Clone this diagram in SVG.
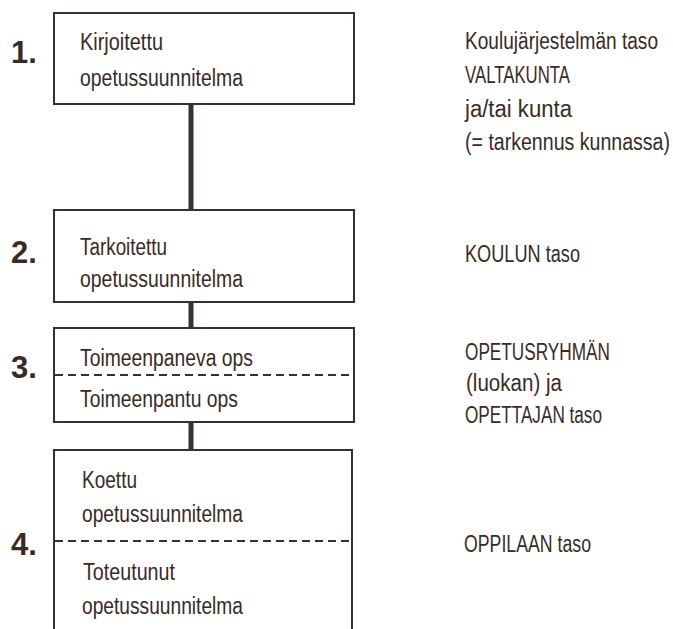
<svg xmlns="http://www.w3.org/2000/svg" width="673" height="629" viewBox="0 0 673 629">
<style>
.box{fill:#fff;stroke:#3a302c;stroke-width:2}
.dash{stroke:#3a302c;stroke-width:2;stroke-dasharray:8,5;fill:none}
.conn{stroke:#3a302c;stroke-width:5}
.t{font-family:"Liberation Sans","DejaVu Sans",sans-serif;font-size:23px;fill:#3a2a25}
.n{font-family:"Liberation Sans","DejaVu Sans",sans-serif;font-weight:bold;font-size:31px;fill:#3a2a25}
</style>
<rect width="673" height="629" fill="#fff"/>
<g id="connectors">
<line class="conn" x1="191" y1="104" x2="191" y2="211"/>
<line class="conn" x1="191" y1="302" x2="191" y2="329"/>
<line class="conn" x1="191" y1="422" x2="191" y2="451"/>
</g>
<g id="node1">
<rect class="box" x="54" y="13" width="300" height="91"/>
<text class="t" x="80" y="50" textLength="83" lengthAdjust="spacingAndGlyphs">Kirjoitettu</text>
<text class="t" x="80" y="86" textLength="163" lengthAdjust="spacingAndGlyphs">opetussuunnitelma</text>
<text class="n" x="11" y="63">1.</text>
</g>
<g id="node2">
<rect class="box" x="54" y="210" width="300" height="92"/>
<text class="t" x="80" y="255" textLength="87" lengthAdjust="spacingAndGlyphs">Tarkoitettu</text>
<text class="t" x="80" y="287" textLength="163" lengthAdjust="spacingAndGlyphs">opetussuunnitelma</text>
<text class="n" x="11" y="263">2.</text>
</g>
<g id="node3">
<rect class="box" x="54" y="328" width="300" height="94"/>
<line class="dash" x1="55" y1="375" x2="353" y2="375"/>
<text class="t" x="80" y="366" textLength="173" lengthAdjust="spacingAndGlyphs">Toimeenpaneva ops</text>
<text class="t" x="80" y="407" textLength="158" lengthAdjust="spacingAndGlyphs">Toimeenpantu ops</text>
<text class="n" x="11" y="378">3.</text>
</g>
<g id="node4">
<rect class="box" x="54" y="450" width="298" height="200"/>
<line class="dash" x1="55" y1="541" x2="351" y2="541"/>
<text class="t" x="82" y="488" textLength="55" lengthAdjust="spacingAndGlyphs">Koettu</text>
<text class="t" x="82" y="522" textLength="161" lengthAdjust="spacingAndGlyphs">opetussuunnitelma</text>
<text class="t" x="83" y="580" textLength="92" lengthAdjust="spacingAndGlyphs">Toteutunut</text>
<text class="t" x="82" y="614" textLength="161" lengthAdjust="spacingAndGlyphs">opetussuunnitelma</text>
<text class="n" x="11" y="555">4.</text>
</g>
<g id="levels">
<text class="t" x="465" y="49" textLength="193" lengthAdjust="spacingAndGlyphs">Koulujärjestelmän taso</text>
<text class="t" x="465" y="83" textLength="105" lengthAdjust="spacingAndGlyphs">VALTAKUNTA</text>
<text class="t" x="465" y="117" textLength="107" lengthAdjust="spacingAndGlyphs">ja/tai kunta</text>
<text class="t" x="465" y="150" textLength="205" lengthAdjust="spacingAndGlyphs">(= tarkennus kunnassa)</text>
<text class="t" x="465" y="262" textLength="115" lengthAdjust="spacingAndGlyphs">KOULUN taso</text>
<text class="t" x="465" y="360" textLength="145" lengthAdjust="spacingAndGlyphs">OPETUSRYHMÄN</text>
<text class="t" x="466" y="391" textLength="96" lengthAdjust="spacingAndGlyphs">(luokan) ja</text>
<text class="t" x="465" y="423" textLength="137" lengthAdjust="spacingAndGlyphs">OPETTAJAN taso</text>
<text class="t" x="464" y="552" textLength="127" lengthAdjust="spacingAndGlyphs">OPPILAAN taso</text>
</g>
</svg>
